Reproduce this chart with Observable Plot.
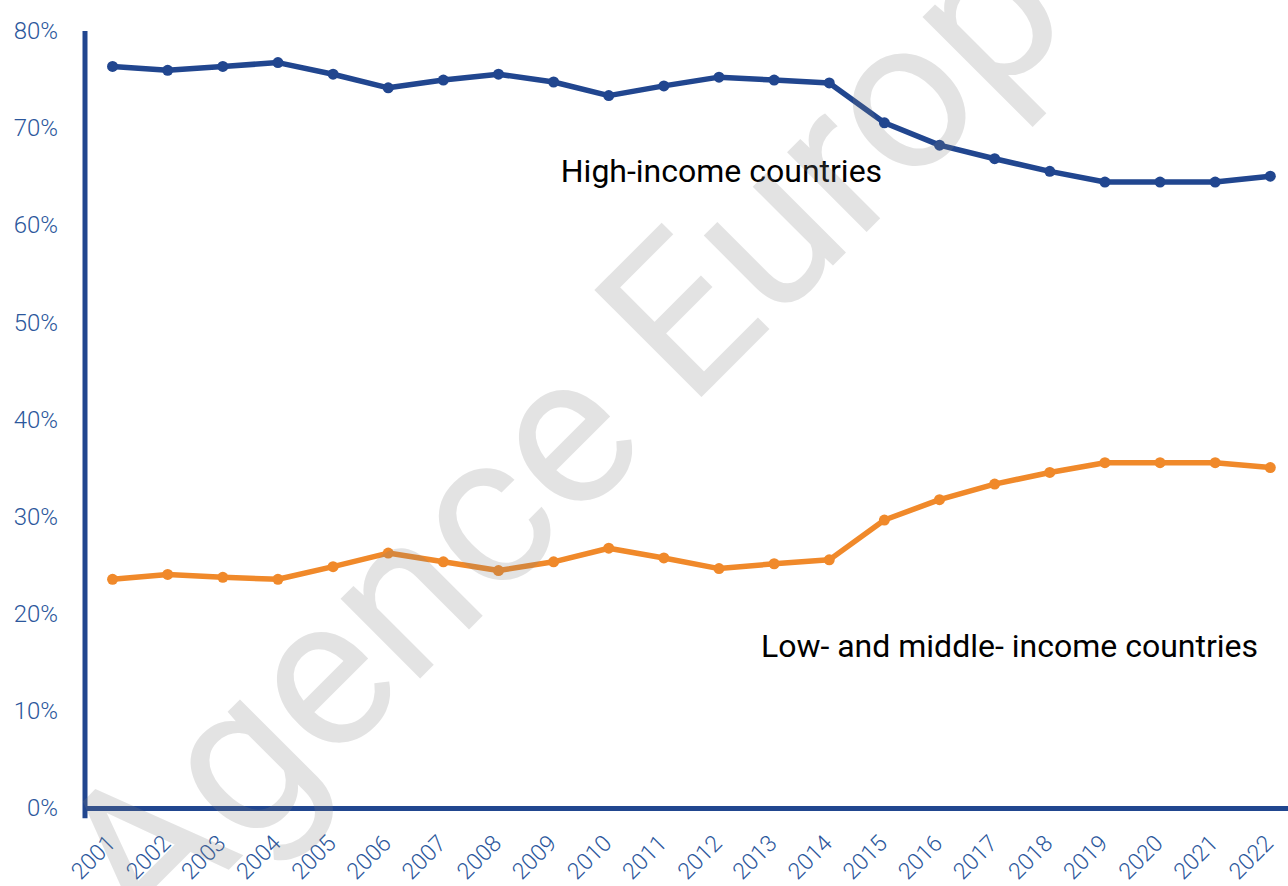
<!DOCTYPE html>
<html>
<head>
<meta charset="utf-8">
<script src="https://cdn.jsdelivr.net/npm/d3@7"></script>
<script src="https://cdn.jsdelivr.net/npm/@observablehq/plot@0.6"></script>
<style>
  html, body { margin: 0; padding: 0; background: #fff; }
  #chart svg { display: block; font-family: Roboto, "Noto Sans", sans-serif; }
</style>
</head>
<body>
<div id="chart"></div>
<script>
const years = [2001, 2002, 2003, 2004, 2005, 2006, 2007, 2008, 2009, 2010, 2011,
               2012, 2013, 2014, 2015, 2016, 2017, 2018, 2019, 2020, 2021, 2022];
const highIncome = [76.4, 76.0, 76.4, 76.8, 75.6, 74.2, 75.0, 75.6, 74.8, 73.4, 74.4,
                    75.3, 75.0, 74.7, 70.6, 68.3, 66.9, 65.6, 64.5, 64.5, 64.5, 65.1];
const lowMiddleIncome = [23.6, 24.1, 23.8, 23.6, 24.9, 26.3, 25.4, 24.5, 25.4, 26.8, 25.8,
                         24.7, 25.2, 25.6, 29.7, 31.8, 33.4, 34.6, 35.6, 35.6, 35.6, 35.1];
const yTicks = [0, 10, 20, 30, 40, 50, 60, 70, 80];
const seriesNames = ["High-income countries", "Low- and middle- income countries"];
const watermark = "Agence Europe";

const navy = "#21468f";
const orange = "#f0892a";
const tickColor = "#2c579c";

const high = years.map((y, i) => ({year: y, value: highIncome[i]}));
const low = years.map((y, i) => ({year: y, value: lowMiddleIncome[i]}));

const xStart = 2000.5, xEnd = 2022.33;

const chart = Plot.plot({
  width: 1288,
  height: 886,
  marginLeft: 84.5,
  marginRight: 0,
  marginTop: 31,
  marginBottom: 78,
  style: {fontFamily: "Roboto, sans-serif", background: "#fff"},
  x: {type: "linear", domain: [xStart, xEnd], axis: null},
  y: {type: "linear", domain: [0, 80], axis: null},
  marks: [
    // axes lines
    Plot.ruleY([0], {stroke: navy, strokeWidth: 5}),
    Plot.ruleX([xStart], {y1: -1.05, y2: 80, stroke: navy, strokeWidth: 5}),
    // y tick labels
    Plot.text(yTicks, {x: xStart, y: d => d, text: d => d + "%", textAnchor: "end",
      dx: -27, fontSize: 24, fontWeight: 300, fill: tickColor}),
    // x tick labels
    Plot.text(years, {x: d => d, y: 0, text: d => String(d), rotate: -45, textAnchor: "end",
      lineAnchor: "middle", dx: -1, dy: 31, fontSize: 23, fontWeight: 300, fill: tickColor}),
    // lines
    Plot.line(high, {x: "year", y: "value", stroke: navy, strokeWidth: 5.5, strokeLinejoin: "round"}),
    Plot.dot(high, {x: "year", y: "value", r: 5.5, fill: navy}),
    Plot.line(low, {x: "year", y: "value", stroke: orange, strokeWidth: 5.5, strokeLinejoin: "round"}),
    Plot.dot(low, {x: "year", y: "value", r: 5.5, fill: orange}),
    // series labels
    Plot.text([seriesNames[0]], {x: 2009.13, y: 65.6, text: d => d, textAnchor: "start",
      fontSize: 32, fill: "#000"}),
    Plot.text([seriesNames[1]], {x: 2012.76, y: 16.7, text: d => d, textAnchor: "start",
      fontSize: 32, fill: "#000"}),
    // watermark
    Plot.text([watermark], {frameAnchor: "bottom-left", text: d => d, rotate: -45,
      textAnchor: "start", lineAnchor: "bottom", dx: 62, dy: 143,
      fontSize: 213, fill: "#808080", fillOpacity: 0.22})
  ]
});
document.getElementById("chart").append(chart);
</script>
</body>
</html>
